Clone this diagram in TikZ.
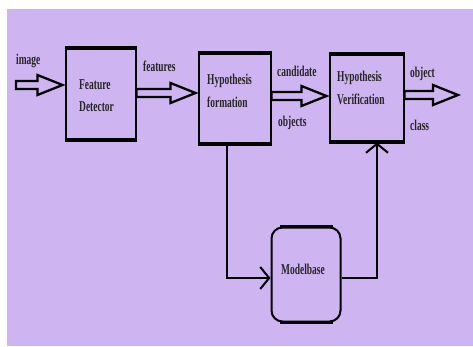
\documentclass[tikz,border=0pt]{standalone}
\usepackage{fontspec}
\usepackage{graphicx}
\setmainfont{Liberation Serif}
\usetikzlibrary{arrows.meta,calc}
\definecolor{bg}{RGB}{206,180,240}
\newcommand{\nq}[1]{\scalebox{0.63}[1]{#1}}
\tikzset{
  box/.style={draw=black, fill=bg, line width=2pt, inner sep=0pt},
  txt/.style={anchor=base west, inner sep=0pt, text=black!85, font=\bfseries\fontsize{15}{17}\selectfont},
  conn/.style={line width=2pt, -{Straight Barb[length=9pt,width=22pt,line width=2pt]}},
  blockarrow/.style={draw=black, fill=bg, line width=2.3pt, line join=miter,
    to path={let \p1=(\tikztostart), \p2=(\tikztotarget) in
      (\x1,\y1+4pt) -- (\x2-27pt,\y1+4pt) -- (\x2-27pt,\y1+10pt) -- (\x2-2pt,\y1)
      -- (\x2-27pt,\y1-10pt) -- (\x2-27pt,\y1-4pt) -- (\x1,\y1-4pt) -- cycle}}
}
\begin{document}
\begin{tikzpicture}[x=1pt,y=-1pt]
\useasboundingbox (0,0) rectangle (473,347);
\fill[white] (0,0) rectangle (473,347);
\fill[bg] (7,9) rectangle (473,346);

% boxes
\node[box, minimum width=70pt, minimum height=90pt] (fd) at (100.5,94.5) {};
\node[box, minimum width=72pt, minimum height=89pt] (hf) at (234.5,98.5) {};
\node[box, minimum width=74pt, minimum height=86pt] (hv) at (366.5,98.5) {};
\node[box, rounded corners=11pt, minimum width=69pt, minimum height=94pt] (mb) at (306,274.5) {};
\foreach \b in {fd,hf,hv}{
  \draw[line width=4pt] (\b.north west) -- (\b.north east);
  \draw[line width=4pt] (\b.south west) -- (\b.south east);
}
\draw[line width=3.5pt] ([xshift=9pt]mb.north west) -- ([xshift=-9pt]mb.north east);
\draw[line width=3pt] ([xshift=9pt]mb.south west) -- ([xshift=-9pt]mb.south east);

% box texts
\node[txt] (fdt1) at (79,90) {\nq{Feature}};
\node[txt] (fdt2) at (79,112) {\nq{Detector}};
\node[txt] (hft1) at (207,85) {\nq{Hypothesis}};
\node[txt] (hft2) at (207,108) {\nq{formation}};
\node[txt] (hvt1) at (337,82) {\nq{Hypothesis}};
\node[txt] (hvt2) at (337,105) {\nq{Verification}};
\node[txt] (mbt) at (281,274) {\nq{Modelbase}};

% arrow labels
\node[txt] (limg) at (16,65) {\nq{image}};
\node[txt] (lfeat) at (143,72) {\nq{features}};
\node[txt] (lcand) at (277,77) {\nq{candidate}};
\node[txt] (lobjs) at (278,127) {\nq{objects}};
\node[txt] (lobj) at (410,78) {\nq{object}};
\node[txt] (lcls) at (410,131) {\nq{class}};

% block arrows
\coordinate (in) at (16,85);
\coordinate (out) at (460,95);
\draw[blockarrow] (in) to (fd.west |- in);
\draw[blockarrow] (fd.east |- 0,93) to (hf.west |- 0,93);
\draw[blockarrow] (hf.east |- 0,96) to (hv.west |- 0,96);
\draw[blockarrow] (hv.east |- out) to (out);

% connectors
\draw[conn] (hf.south -| 227,0) |- (mb.west |- 0,278);
\draw[conn] (mb.east |- 0,278) -| (hv.south -| 377,0);
\end{tikzpicture}
\end{document}
